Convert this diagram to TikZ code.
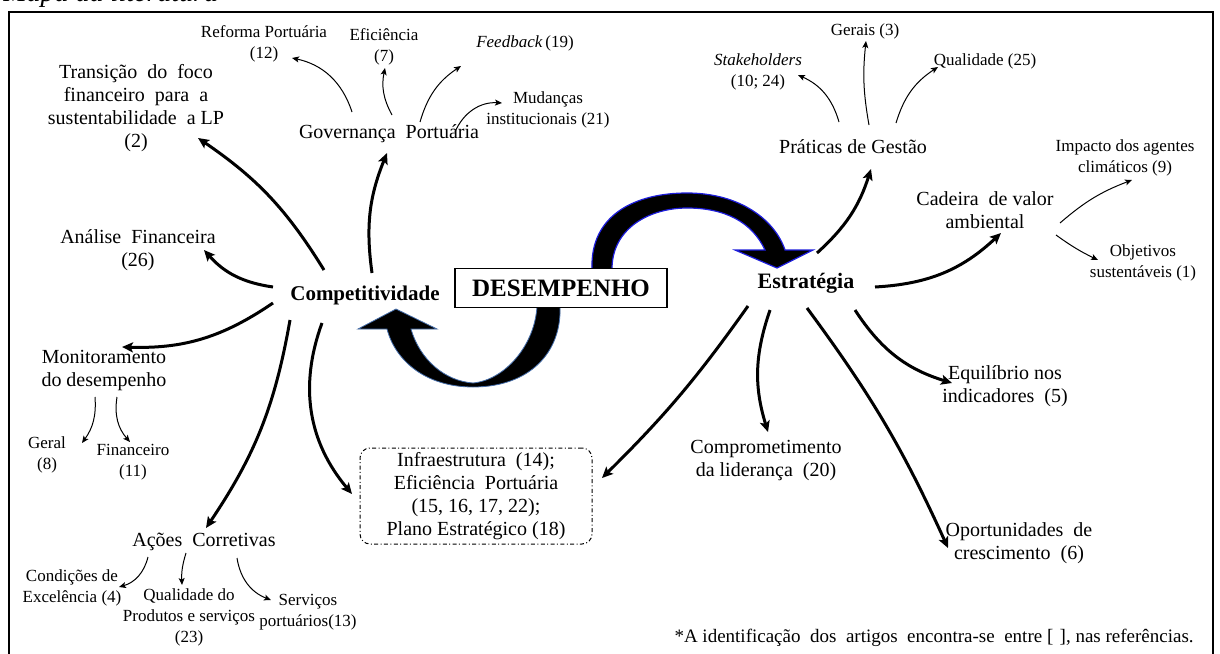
\documentclass[tikz,border=0pt]{standalone}
\usepackage{fontspec}
\setmainfont{Liberation Serif}
\usetikzlibrary{arrows.meta}
\begin{document}
\begin{tikzpicture}[x=0.5pt,y=-0.5pt,
  lbl/.style={align=center,inner sep=0pt,font=\fontsize{10}{11.5}\selectfont},
  sml/.style={align=center,inner sep=0pt,font=\fontsize{8.5}{10.5}\selectfont},
  hub/.style={inner sep=0pt,font=\fontsize{10.5}{12}\selectfont\bfseries},
  bigarr/.style={line width=1.5pt,-{Stealth[length=5.5pt,width=5pt,inset=1.2pt]}},
  smallarr/.style={line width=0.5pt,-{Stealth[length=3.5pt,width=3pt,inset=0.8pt]}},
  groupbox/.style={draw,rounded corners=5pt,line width=0.5pt,
    dash pattern=on 2pt off 1.2pt on 0.5pt off 1.2pt,
    minimum width=116pt,minimum height=48pt,align=center,inner sep=0pt,
    font=\fontsize{10}{11.5}\selectfont},
]
\useasboundingbox (0,0) rectangle (1220,653);

% heading line above the frame
\node[anchor=base west,inner sep=0pt,font=\fontsize{14}{16}\selectfont\itshape] (ttl) at (3,2) {Mapa da literatura};

% outer frame
\draw[line width=1pt] (9,12) rectangle (1213,665);

% large curved arrows around the central box
\filldraw[fill=black,draw={rgb,255:red,70;green,110;blue,170},line width=0.4pt]
  (560,306) .. controls (562,352) and (530,387) .. (473,387)
  .. controls (425,387) and (395,360) .. (387,329)
  -- (358,329) -- (396,309) -- (437,329) -- (411,329)
  .. controls (420,360) and (445,381) .. (473,383)
  .. controls (505,380) and (535,345) .. (537,306) -- cycle;
\filldraw[fill=black,draw={rgb,255:red,30;green,30;blue,220},line width=0.6pt]
  (592,269) .. controls (590,215) and (635,193) .. (687,193)
  .. controls (740,193) and (775,220) .. (785,250)
  -- (813,250) -- (777,268) -- (735,250) -- (765,250)
  .. controls (752,222) and (725,208) .. (687,208)
  .. controls (650,208) and (612,228) .. (612,269) -- cycle;

% central nodes
\node[draw,fill=white,line width=0.6pt,minimum width=106pt,minimum height=19.5pt,inner sep=0pt,
  font=\fontsize{12.5}{14}\selectfont\bfseries] (desemp) at (561,288) {DESEMPENHO};
\node[hub] (comp) at (365,295) {Competitividade};
\node[hub,font=\fontsize{11}{13}\selectfont\bfseries] (estr) at (806,283) {Estratégia};

% nodes around Competitividade
\node[lbl] (gov) at (389,134) {Governança\ \ Portuária};
\node[lbl] (trans) at (136,108) {Transição\ \ do\ \ foco\\financeiro\ \ para\ \ a\\sustentabilidade\ \ a\ LP\\(2)};
\node[sml] (reforma) at (264,44) {Reforma Portuária\\(12)};
\node[sml] (efic) at (384,47) {Eficiência\\(7)};
\node[sml] (feed) at (525,43) {\textit{Feedback}\,(19)};
\node[sml] (mud) at (548,110) {Mudanças\\institucionais\ (21)};
\node[lbl] (anal) at (138,250) {Análise\ \ Financeira\\(26)};
\node[lbl] (monit) at (104,371) {Monitoramento\\do desempenho};
\node[sml] (geral) at (47,455) {Geral\\(8)};
\node[sml] (finan) at (133,462) {Financeiro\\(11)};
\node[lbl] (acoes) at (204,542) {Ações\ \ Corretivas};
\node[sml] (cond) at (72,588) {Condições de\\Excelência\ (4)};
\node[sml] (qual) at (189,617) {Qualidade do\\Produtos e serviços\\(23)};
\node[sml] (serv) at (308,612) {Serviços\\portuários(13)};
\node[groupbox] (infra) at (476,496) {Infraestrutura\ \ (14);\\Eficiência\ \ Portuária\\(15, 16, 17, 22);\\Plano\ Estratégico\ (18)};

% nodes around Estratégia
\node[lbl] (prat) at (853,147) {Práticas\ de\ Gestão};
\node[sml] (stake) at (758,72) {\textit{Stakeholders}\\(10; 24)};
\node[sml] (gerais) at (865,31) {Gerais (3)};
\node[sml] (qualid) at (985,61) {Qualidade (25)};
\node[lbl] (cadeira) at (985,210) {Cadeira\ \ de\ valor\\ambiental};
\node[sml] (impacto) at (1125,158) {Impacto dos agentes\\climáticos (9)};
\node[sml] (objet) at (1143,263) {Objetivos\\sustentáveis (1)};
\node[lbl] (equil) at (1005,386) {Equilíbrio nos\\indicadores\ \ (5)};
\node[lbl] (compr) at (766,461) {Comprometimento\\da\ liderança\ \ (20)};
\node[lbl] (oport) at (1019,543) {Oportunidades\ \ de\\crescimento\ \ (6)};

% footnote
\node[anchor=base east,inner sep=0pt,font=\fontsize{9.5}{11}\selectfont] (nota) at (1194,642)
  {*A identificação\ \ dos\ \ artigos\ \ encontra-se\ \ entre\ [\,\,], nas referências.};

% connectors from Competitividade
\draw[bigarr] ([shift={(-41,-25)}]comp.center) to[bend right=12] ([shift={(62,30)}]trans.center);
\draw[bigarr] ([shift={(7,-22)}]comp.center) to[bend left=15] ([shift={(-2,19)}]gov.center);
\draw[bigarr] ([shift={(-92,-8)}]comp.center) to[bend left=20] ([shift={(66,0)}]anal.center);
\draw[bigarr] ([shift={(-92,8)}]comp.center) to[bend left=18] ([shift={(18,-24)}]monit.center);
\draw[bigarr] ([shift={(-75,25)}]comp.center) to[bend left=12] ([shift={(2,-14)}]acoes.center);
\draw[bigarr] ([shift={(-43,28)}]comp.center) to[bend right=30] ([shift={(-124,-2)}]infra.center);

% connectors from Governança Portuária
\draw[smallarr] ([shift={(-37,-22)}]gov.center) to[bend right=30] ([shift={(28,14)}]reforma.center);
\draw[smallarr] ([shift={(3,-19)}]gov.center) to[bend left=20] ([shift={(1,21)}]efic.center);
\draw[smallarr] ([shift={(31,-12)}]gov.center) to[bend left=20] ([shift={(-64,23)}]feed.center);
\draw[smallarr] ([shift={(66,-2)}]gov.center) to[bend left=35] ([shift={(-46,-7)}]mud.center);

% connectors from Monitoramento and Ações
\draw[smallarr] ([shift={(-9,26)}]monit.center) to[bend left=20] ([shift={(35,-12)}]geral.center);
\draw[smallarr] ([shift={(13,26)}]monit.center) to[bend right=25] ([shift={(-3,-20)}]finan.center);
\draw[smallarr] ([shift={(-56,15)}]acoes.center) to[bend left=30] ([shift={(47,-1)}]cond.center);
\draw[smallarr] ([shift={(-18,11)}]acoes.center) to[bend right=10] ([shift={(-7,-32)}]qual.center);
\draw[smallarr] ([shift={(33,16)}]acoes.center) to[bend right=30] ([shift={(-37,-12)}]serv.center);

% connectors from Estratégia
\draw[bigarr] ([shift={(11,-30)}]estr.center) to[bend right=15] ([shift={(18,22)}]prat.center);
\draw[bigarr] ([shift={(69,4)}]estr.center) to[bend right=20] ([shift={(16,23)}]cadeira.center);
\draw[bigarr] ([shift={(49,27)}]estr.center) to[bend right=20] ([shift={(-53,-3)}]equil.center);
\draw[bigarr] ([shift={(1,25)}]estr.center) to[bend left=6] ([shift={(-71,5)}]oport.center);
\draw[bigarr] ([shift={(-36,27)}]estr.center) to[bend right=18] ([shift={(2,-29)}]compr.center);
\draw[bigarr] ([shift={(-58,23)}]estr.center) to[bend left=5] ([shift={(126,-18)}]infra.center);

% connectors from Práticas de Gestão and Cadeira de valor
\draw[smallarr] ([shift={(-14,-25)}]prat.center) to[bend right=25] ([shift={(40,3)}]stake.center);
\draw[smallarr] ([shift={(16,-22)}]prat.center) to[bend left=8] ([shift={(1,10)}]gerais.center);
\draw[smallarr] ([shift={(43,-24)}]prat.center) to[bend left=20] ([shift={(-47,6)}]qualid.center);
\draw[smallarr] ([shift={(75,13)}]cadeira.center) to[bend left=10] ([shift={(7,22)}]impacto.center);
\draw[smallarr] ([shift={(71,25)}]cadeira.center) to[bend right=5] ([shift={(-45,-3)}]objet.center);
\end{tikzpicture}
\end{document}
